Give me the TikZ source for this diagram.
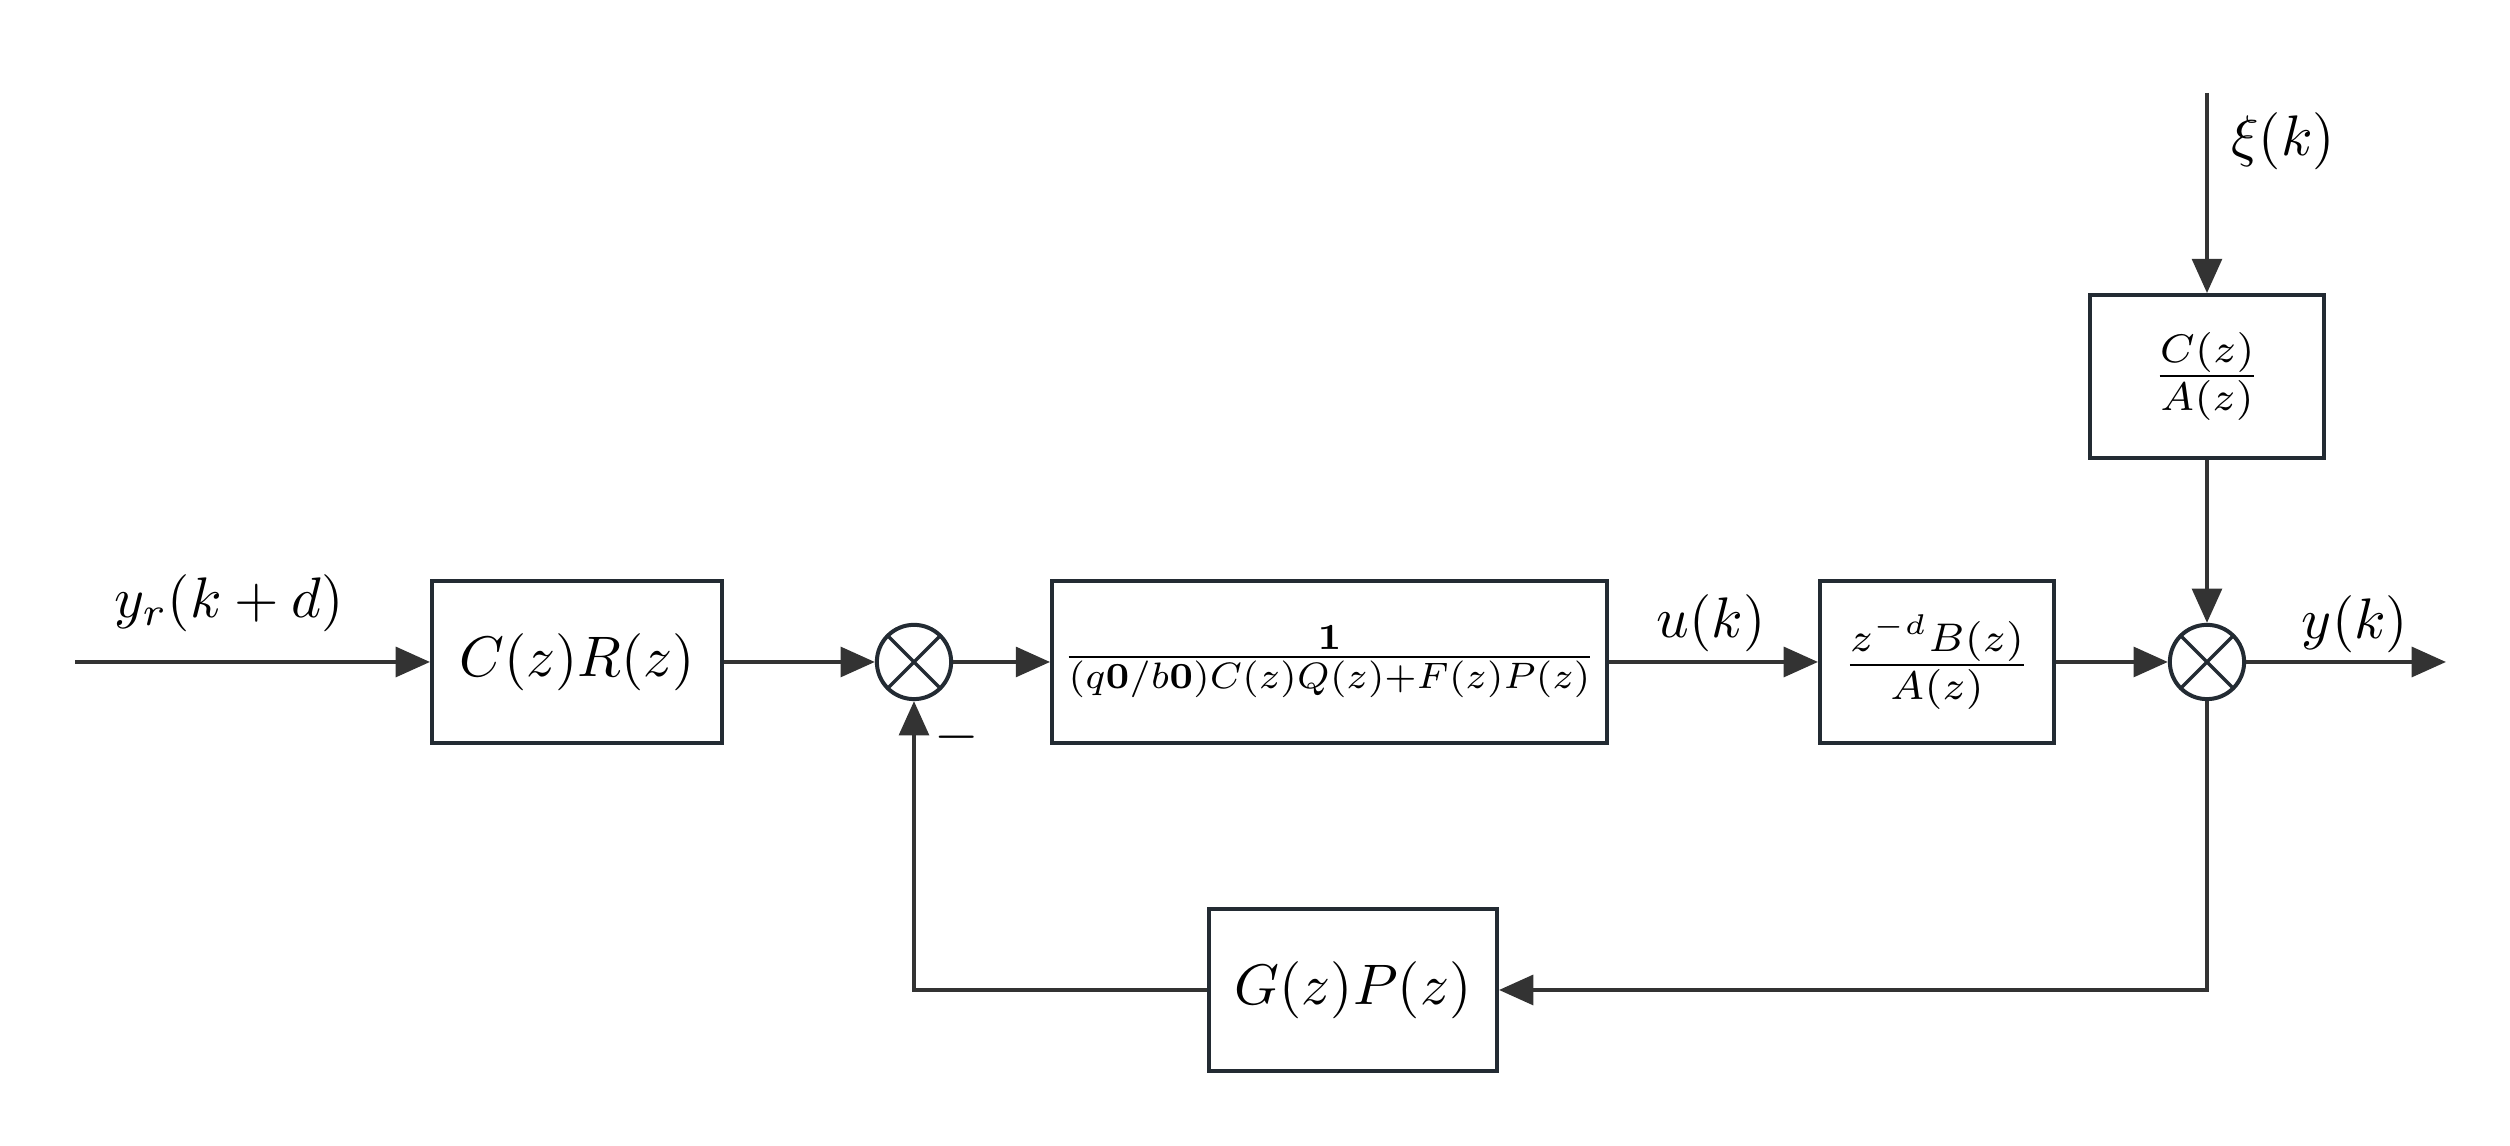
\documentclass[tikz,border=0pt]{standalone}
\usetikzlibrary{arrows.meta}
\definecolor{boxline}{HTML}{232B33}
\definecolor{wirecol}{HTML}{333333}
\begin{document}
\begin{tikzpicture}[x=0.175pt, y=-0.175pt,
  block/.style={draw=boxline, line width=0.7pt, fill=white, rectangle,
    inner sep=0pt, minimum height=28.35pt},
  sumnode/.style={circle, draw=boxline, line width=0.7pt, minimum size=13pt,
    inner sep=0pt, fill=white,
    path picture={\draw[boxline, line width=0.6pt]
      (path picture bounding box.north west) -- (path picture bounding box.south east)
      (path picture bounding box.north east) -- (path picture bounding box.south west);}},
  wire/.style={draw=wirecol, line width=0.7pt, -{Triangle[length=6pt,width=5.2pt]}},
  lbl/.style={inner sep=0pt}
]
\useasboundingbox (0,0) rectangle (2510,1146);

% blocks of the loop
\node[block, minimum width=50.75pt] (cr) at (577,662) {$C(z)R(z)$};
\node[sumnode] (s1) at (914,662) {};
\node[block, minimum width=97.1pt] (ctrl) at (1329.5,662)
  {\scalebox{0.92}{$\frac{\mathbf{1}}{(q\mathbf{0}/b\mathbf{0})C(z)Q(z)+F(z)P(z)}$}};
\node[block, minimum width=40.95pt] (plant) at (1937,662) {$\frac{z^{-d}B(z)}{A(z)}$};
\node[sumnode] (s2) at (2207,662) {};
\node[block, minimum width=41.1pt, minimum height=28.5pt] (noise) at (2207,376.5) {$\frac{C(z)}{A(z)}$};
\node[block, minimum width=50.4pt] (fb) at (1353,990) {$G(z)P(z)$};

% free ends of the signals
\coordinate (in) at (75,662);
\coordinate (out) at (2446,662);
\coordinate (xi) at (2207,93);

% connectors
\draw[wire] (in) -- (cr);
\draw[wire] (cr) -- (s1);
\draw[wire] (s1) -- (ctrl);
\draw[wire] (ctrl) -- (plant);
\draw[wire] (plant) -- (s2);
\draw[wire] (s2) -- (out);
\draw[wire] (xi) -- (noise);
\draw[wire] (noise) -- (s2);
\draw[wire] (s2.south) |- (fb.east);
\draw[wire] (fb.west) -| (s1.south);

% signal labels
\node[lbl] (lyr) at (229,603) {$y_r(k+d)$};
\node[lbl] (lu) at (1711,623) {$u(k)$};
\node[lbl] (ly) at (2355,624) {$y(k)$};
\node[lbl] (lxi) at (2283,141) {$\xi(k)$};
\node[lbl] (lminus) at (957,737) {$-$};
\end{tikzpicture}
\end{document}
